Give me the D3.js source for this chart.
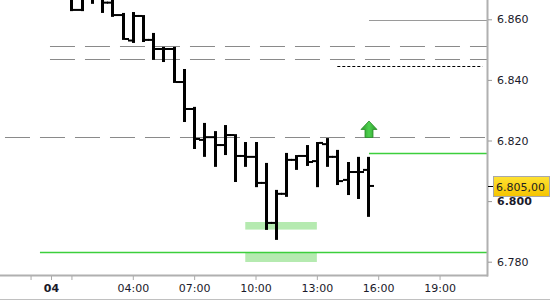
<!DOCTYPE html>
<html><head><meta charset="utf-8">
<script src="https://cdn.jsdelivr.net/npm/d3@7"></script>
<style>body{margin:0;background:#fff}svg{display:block}</style>
</head><body>
<svg id="c" width="550" height="300"></svg>
<script>
// ---- data (hours from 00:00 of day 04) ----
const times  = [1,1.5,2,2.5,3,3.5,4,4.5,5,5.5,6,6.5,7,7.5,8,8.5,9,9.5,10,10.5,11,11.5,12,12.5,13,13.5,14,14.5,15,15.5];
const opens  = [6.8670,6.8631,6.8670,6.8668,6.8655,6.8614,6.8530,6.8611,6.8532,6.8502,6.8502,6.8393,6.8304,6.8202,6.8211,6.8185,6.8218,6.8149,6.8146,6.8060,6.7928,6.8024,6.8136,6.8149,6.8132,6.8188,6.8146,6.8070,6.8096,6.8103];
const highs  = [6.8685,6.8685,6.8690,6.8680,6.8675,6.8621,6.8624,6.8614,6.8555,6.8509,6.8509,6.8436,6.8311,6.8258,6.8231,6.8251,6.8221,6.8195,6.8195,6.8126,6.8037,6.8159,6.8152,6.8185,6.8195,6.8208,6.8169,6.8129,6.8146,6.8146];
const lows   = [6.8627,6.8627,6.8651,6.8621,6.8608,6.8532,6.8522,6.8525,6.8466,6.8459,6.8390,6.8261,6.8172,6.8146,6.8113,6.8152,6.8063,6.8113,6.8046,6.7905,6.7872,6.8014,6.8103,6.8116,6.8046,6.8113,6.8053,6.8020,6.8007,6.7948];
const closes = [6.8631,6.8670,6.8668,6.8655,6.8614,6.8535,6.8611,6.8532,6.8502,6.8502,6.8393,6.8304,6.8205,6.8211,6.8185,6.8218,6.8149,6.8146,6.8060,6.7928,6.8024,6.8136,6.8149,6.8129,6.8192,6.8146,6.8066,6.8096,6.8096,6.8050];

const priceTicks = [6.780,6.800,6.820,6.840,6.860];
const priceTickLabels = ["6.780","6.800","6.820","6.840","6.860"];
const timeTicks = [-1,0,1,4,7,10,13,16,19];
const timeTickLabels = ["","04","","04:00","07:00","10:00","13:00","16:00","19:00"];

const lastPrice = 6.805;
const lastPriceLabel = "6.805,00";

const dashedLevels = [6.8512,6.8469,6.8211];
const dashedStarts = [-0.05,-0.05,-2.25];
const greenLevels = [6.8158,6.7831];
const greenStarts = [15.55,-0.54];
const grayLevels = [6.8598];
const grayStarts = [15.55];
const dottedLevels = [6.8446];
const dottedStarts = [14.0];
const dottedEnds = [21.1];
const zoneStarts = [9.5,9.5];
const zoneEnds = [13.0,13.0];
const zoneLows = [6.7906,6.7799];
const zoneHighs = [6.7931,6.7830];
const arrowTimes = [15.55];
const arrowPrices = [6.8210];

// ---- chart ----
const svg = d3.select("#c");
const W = 550, H = 300;
const plotR = 487, plotB = 275;
const x = d3.scaleLinear().domain([0,19]).range([51, 51+19*20.45]);
const y = d3.scaleLinear().domain([6.780,6.860]).range([261.7,19.3]);
const font = "'DejaVu Sans', Verdana, sans-serif";

const defs = svg.append("defs");
defs.append("clipPath").attr("id","clip").append("rect").attr("x",0).attr("y",0).attr("width",plotR).attr("height",plotB);
const ag = defs.append("linearGradient").attr("id","arrowG").attr("x1",0).attr("x2",1).attr("y1",0).attr("y2",0);
ag.append("stop").attr("offset","0%").attr("stop-color","#2a9a2a");
ag.append("stop").attr("offset","50%").attr("stop-color","#4fd04f");
ag.append("stop").attr("offset","100%").attr("stop-color","#2a9a2a");
const yg = defs.append("linearGradient").attr("id","yelG").attr("x1",0).attr("x2",0).attr("y1",0).attr("y2",1);
yg.append("stop").attr("offset","0%").attr("stop-color","#ffe233");
yg.append("stop").attr("offset","100%").attr("stop-color","#f5c400");

const g = svg.append("g").attr("clip-path","url(#clip)");
const px = v => Math.round(v);

// zones
g.selectAll(".zone").data(zoneStarts).join("rect")
  .attr("x",(d,i)=>x(d)).attr("width",(d,i)=>x(zoneEnds[i])-x(d))
  .attr("y",(d,i)=>y(zoneHighs[i])).attr("height",(d,i)=>y(zoneLows[i])-y(zoneHighs[i]))
  .attr("fill","#b5eab0");

// dashed levels
g.selectAll(".dl").data(dashedLevels).join("line")
  .attr("x1",(d,i)=>x(dashedStarts[i])).attr("x2",plotR)
  .attr("y1",d=>px(y(d))+0.5).attr("y2",d=>px(y(d))+0.5)
  .attr("stroke","#8a8a8a").attr("stroke-width",1.2).attr("stroke-dasharray","25,10");
// gray solid
g.selectAll(".gl").data(grayLevels).join("line")
  .attr("x1",(d,i)=>x(grayStarts[i])).attr("x2",plotR)
  .attr("y1",d=>px(y(d))+0.5).attr("y2",d=>px(y(d))+0.5)
  .attr("stroke","#9a9a9a").attr("stroke-width",1);
// dotted
g.selectAll(".dt").data(dottedLevels).join("line")
  .attr("x1",(d,i)=>x(dottedStarts[i])).attr("x2",(d,i)=>x(dottedEnds[i]))
  .attr("y1",d=>px(y(d))+0.5).attr("y2",d=>px(y(d))+0.5)
  .attr("stroke","#000").attr("stroke-width",1).attr("stroke-dasharray","3,2");
// green
g.selectAll(".grn").data(greenLevels).join("line")
  .attr("x1",(d,i)=>x(greenStarts[i])).attr("x2",plotR)
  .attr("y1",d=>px(y(d))+0.5).attr("y2",d=>px(y(d))+0.5)
  .attr("stroke","#3ccf3c").attr("stroke-width",1.4);

// OHLC bars
const bars = g.selectAll(".bar").data(times).join("g");
bars.append("rect").attr("x",d=>px(x(d))-1).attr("width",3)
  .attr("y",(d,i)=>y(highs[i])).attr("height",(d,i)=>y(lows[i])-y(highs[i])).attr("fill","#000");
bars.append("rect").attr("x",d=>px(x(d))-5).attr("width",4)
  .attr("y",(d,i)=>y(opens[i])-1).attr("height",2).attr("fill","#000");
bars.append("rect").attr("x",d=>px(x(d))+2).attr("width",4)
  .attr("y",(d,i)=>y(closes[i])-1).attr("height",2).attr("fill","#000");

// arrow
g.selectAll(".arr").data(arrowTimes).join("path")
  .attr("transform",(d,i)=>`translate(${x(d)},${y(arrowPrices[i])})`)
  .attr("d","M0,-16.5 L8,-8 L4,-8 L4,0 L-4,0 L-4,-8 L-8,-8 Z")
  .attr("fill","url(#arrowG)").attr("stroke","#2b8a2b").attr("stroke-width",0.8);

// axes frame
svg.append("line").attr("x1",0).attr("x2",plotR+1).attr("y1",plotB+0.5).attr("y2",plotB+0.5)
  .attr("stroke","#b0b0b0").attr("stroke-width",2);
svg.append("line").attr("x1",plotR+0.5).attr("x2",plotR+0.5).attr("y1",0).attr("y2",plotB+1.5)
  .attr("stroke","#b0b0b0").attr("stroke-width",2);
svg.append("line").attr("x1",0).attr("x2",W).attr("y1",299.5).attr("y2",299.5)
  .attr("stroke","#c0c0c0").attr("stroke-width",1);

// right axis
const ya = svg.append("g").attr("transform",`translate(${plotR+1},0)`)
  .call(d3.axisRight(y).tickValues(priceTicks).tickSize(4).tickPadding(5)
     .tickFormat((d,i)=>priceTickLabels[i]));
ya.select(".domain").remove();
ya.selectAll(".tick line").attr("stroke","#999");
ya.selectAll(".tick text").attr("font-family",font).attr("font-size",11).attr("fill","#1a1a2a")
  .attr("font-weight",(d,i)=>priceTickLabels[i]==="6.800"?"bold":"normal");

// bottom axis
const xa = svg.append("g").attr("transform",`translate(0,${plotB+1})`)
  .call(d3.axisBottom(x).tickValues(timeTicks).tickSize(4).tickPadding(4)
     .tickFormat((d,i)=>timeTickLabels[i]));
xa.select(".domain").remove();
xa.selectAll(".tick line").attr("stroke","#aaa");
xa.selectAll(".tick text").attr("font-family",font).attr("font-size",11).attr("fill","#1a1a2a")
  .attr("font-weight",(d,i)=>timeTickLabels[i]==="04"?"bold":"normal");

// last price marker
const ly = y(lastPrice);
svg.append("line").attr("x1",plotR+1).attr("x2",plotR+7).attr("y1",px(ly)+0.5).attr("y2",px(ly)+0.5)
  .attr("stroke","#000").attr("stroke-width",1);
svg.append("rect").attr("x",493.5).attr("y",px(ly)-9.5).attr("width",56).attr("height",20)
  .attr("fill","url(#yelG)").attr("stroke","#a8a8a8").attr("stroke-width",1);
svg.append("text").attr("x",496).attr("y",px(ly)+5).attr("font-family",font).attr("font-size",11)
  .attr("fill","#222").text(lastPriceLabel);
</script>
</body></html>
